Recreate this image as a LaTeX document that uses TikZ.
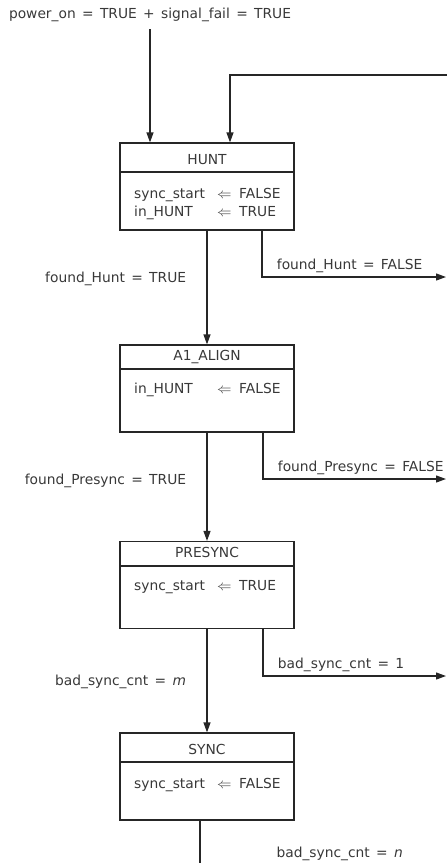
\documentclass[tikz,border=0pt]{standalone}
\usepackage{fontspec}
\setmainfont[WordSpace=1.45]{DejaVu Sans}
\usetikzlibrary{arrows.meta,positioning}
\newcommand{\assign}[2]{\makebox[83pt][l]{#1}\makebox[22pt][l]{$\Leftarrow$}#2}

\begin{document}
\begin{tikzpicture}[x=1pt,y=-1pt,
    every node/.style={font=\fontsize{13.8}{18}\selectfont, text=black!78},
    state/.style={draw=black!85, line width=1.2pt, minimum width=174pt, minimum height=87pt, inner sep=0pt},
    title/.style={anchor=base},
    body/.style={anchor=north west, inner sep=0pt, align=left},
    arr/.style={draw=black!85, line width=1.2pt, -{Triangle[length=10pt,width=7pt]}},
    lbl/.style={anchor=base east, xshift=-17pt, yshift=-5pt},
    lblr/.style={anchor=base west, xshift=11pt, yshift=8pt}]
  \useasboundingbox (0,0) rectangle (447,863);

  \node[anchor=base] (start) at (150,18) {power\_on = TRUE + signal\_fail = TRUE};

  % states
  \node[state] (hunt) at (207,186.5) {};
  \node[state] (align) at (207,388.5) {};
  \node[state] (presync) at (207,585) {};
  \node[state] (sync) at (207,776.5) {};
  \foreach \s/\d in {hunt/172, align/369, presync/566, sync/762}
    \draw[draw=black!85, line width=1.2pt] (\s.west |- 0,\d) -- (\s.east |- 0,\d);

  \node[title] (huntT) at (207,164) {HUNT};
  \node[title] (alignT) at (207,360) {A1\_ALIGN};
  \node[title] (presyncT) at (207,557) {PRESYNC};
  \node[title] (syncT) at (207,754) {SYNC};

  \node[body] (huntB) at (134,188) {\assign{sync\_start}{FALSE}\\\assign{in\_HUNT}{TRUE}};
  \node[body] (alignB) at (134,383) {\assign{in\_HUNT}{FALSE}};
  \node[body] (presyncB) at (134,580) {\assign{sync\_start}{TRUE}};
  \node[body] (syncB) at (134,778) {\assign{sync\_start}{FALSE}};

  % connectors
  \coordinate (retry) at (447,75);
  \coordinate (huntNo) at (446,277);
  \coordinate (alignNo) at (446,479);
  \coordinate (presyncNo) at (446,676);
  \coordinate (syncOut) at (200,863);

  \draw[arr] ([yshift=-11pt]start.base) -- (start.base |- hunt.north);
  \draw[arr] (retry) -| ([xshift=23pt]hunt.north);

  \draw[arr] (hunt) -- (align) node[pos=0.41, lbl] (huntYesL) {found\_Hunt = TRUE};
  \draw[arr] ([xshift=55pt]hunt.south) |- (huntNo) node[pos=0.5, lblr] (huntNoL) {found\_Hunt = FALSE};

  \draw[arr] (align) -- (presync) node[pos=0.43, lbl] (alignYesL) {found\_Presync = TRUE};
  \draw[arr] ([xshift=56pt]align.south) |- (alignNo) node[pos=0.5, lblr] (alignNoL) {found\_Presync = FALSE};

  \draw[arr] (presync) -- (sync) node[pos=0.5, lbl] (presyncYesL) {bad\_sync\_cnt = \textit{m}};
  \draw[arr] ([xshift=56pt]presync.south) |- (presyncNo) node[pos=0.5, lblr] (presyncNoL) {bad\_sync\_cnt = 1};

  \draw[draw=black!85, line width=1.2pt] ([xshift=-7pt]sync.south) -- (syncOut);
  \node[anchor=base west] (syncNoL) at (273,857) {bad\_sync\_cnt = \textit{n}};
\end{tikzpicture}
\end{document}
